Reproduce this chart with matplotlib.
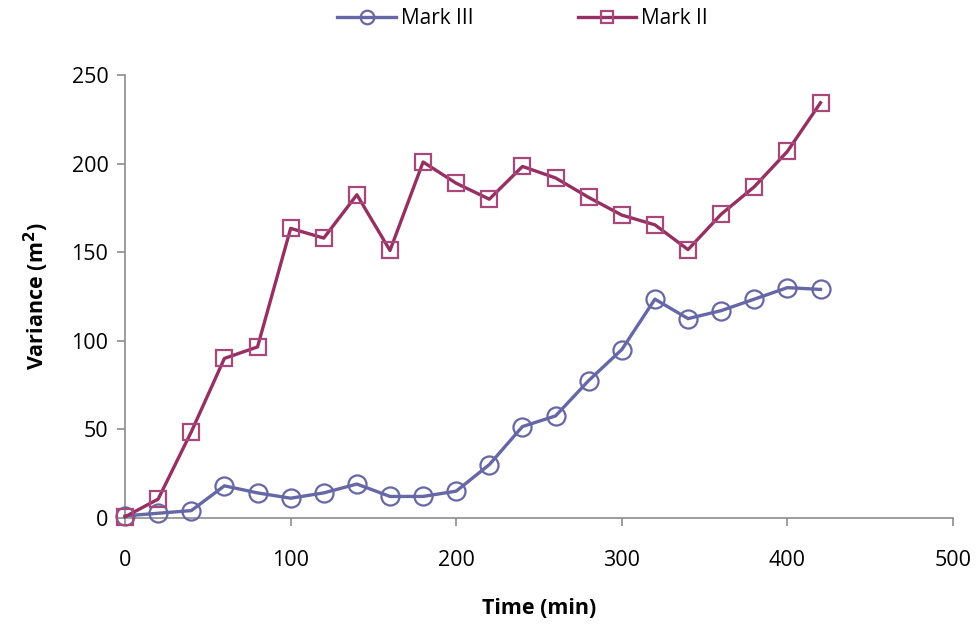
import matplotlib
matplotlib.use("Agg")
import matplotlib.pyplot as plt

# Sampling times (min)
time_min = [0, 20, 40, 60, 80, 100, 120, 140, 160, 180, 200, 220,
            240, 260, 280, 300, 320, 340, 360, 380, 400, 420]

# Variance (m^2) for each instrument
mark_iii = [1, 2.5, 4, 18, 14, 11, 14, 19, 12, 12, 15, 30,
            51.5, 57.5, 77.5, 95, 123.5, 112.5, 117, 123.5, 130, 129]
mark_ii = [0.5, 10.5, 48.5, 90, 96.5, 163.5, 158, 182.5, 151, 201, 189, 180,
           198.5, 192, 181, 171, 165.5, 151.5, 171.5, 187, 207, 234.5]

x_ticks = [0, 100, 200, 300, 400, 500]
y_ticks = [0, 50, 100, 150, 200, 250]

plt.rcParams['font.family'] = ['Open Sans', 'DejaVu Sans']

fig = plt.figure(figsize=(9.77, 6.24), dpi=100)
ax = fig.add_axes([0.128, 0.1704, 0.8474, 0.7089])

c3_line, c3_mark = '#6667A6', '#6667A6'
c2_line, c2_mark = '#962F62', '#A8487A'

ax.plot(time_min, mark_iii, color=c3_line, lw=2.4, marker='o', ms=13,
        mfc='none', mec=c3_mark, mew=1.6, label='Mark III', clip_on=False, zorder=3)
ax.plot(time_min, mark_ii, color=c2_line, lw=2.4, marker='s', ms=12,
        mfc='none', mec=c2_mark, mew=1.6, label='Mark II', clip_on=False, zorder=4)

ax.set_xlim(0, 500)
ax.set_ylim(0, 250)
ax.set_xticks(x_ticks)
ax.set_yticks(y_ticks)

for s in ('top', 'right'):
    ax.spines[s].set_visible(False)
for s in ('left', 'bottom'):
    ax.spines[s].set_color('#8C8C8C')
    ax.spines[s].set_linewidth(1.2)
ax.tick_params(axis='both', direction='out', length=6, width=1.2,
               color='#8C8C8C', labelsize=15.5, labelcolor='black')
ax.tick_params(axis='x', pad=17)
ax.tick_params(axis='y', pad=6)

ax.set_xlabel('Time (min)', fontsize=15.5, fontweight='bold', labelpad=20)
ax.set_ylabel('Variance (m$^\\mathbf{2}$)', fontsize=15.5, fontweight='bold', labelpad=15)

fig.legend(loc='center', bbox_to_anchor=(0.535, 0.97), ncol=2, frameon=False,
           fontsize=15, handlelength=2.8, columnspacing=5, handletextpad=0.25,
           markerscale=0.75)

fig.savefig('out.png', dpi=100)
